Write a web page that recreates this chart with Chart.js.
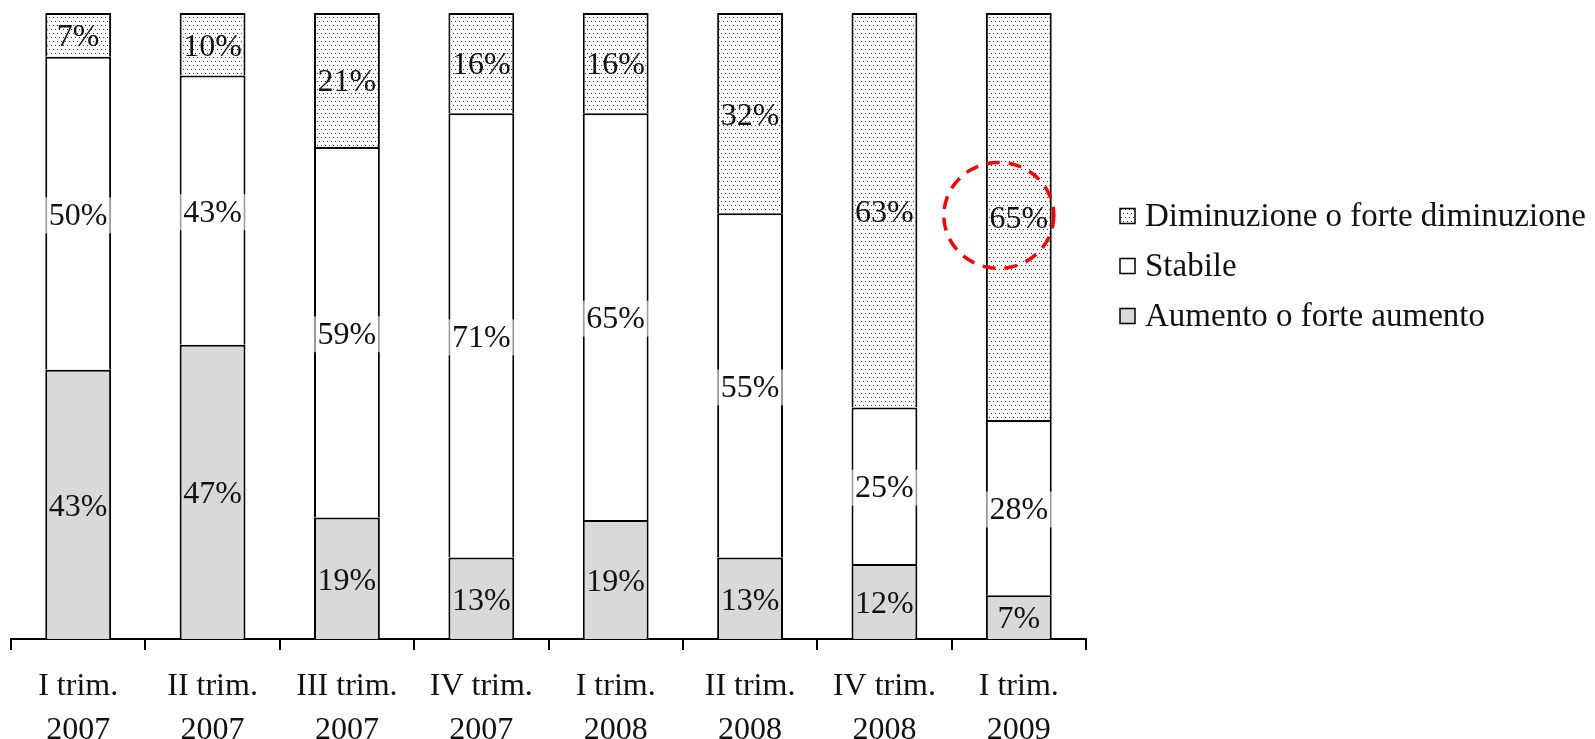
<!DOCTYPE html>
<html>
<head>
<meta charset="utf-8">
<script src="https://cdn.jsdelivr.net/npm/chart.js@4.4.0/dist/chart.umd.min.js"></script>
<style>
    html, body { margin: 0; padding: 0; background: #fff; }
    #wrap { width: 1595px; height: 739px; position: relative; }
</style>
</head>
<body>
<div id="wrap"><canvas id="chart"></canvas></div>
<script>
const categories = [
    ['I trim.', '2007'], ['II trim.', '2007'], ['III trim.', '2007'], ['IV trim.', '2007'],
    ['I trim.', '2008'], ['II trim.', '2008'], ['IV trim.', '2008'], ['I trim.', '2009']
];
const aumento = [43, 47, 19.4, 13, 19, 13, 12, 7];
const stabile = [50, 43, 59.2, 71, 65, 55, 25, 28];
const diminuzione = [7, 10, 21.4, 16, 16, 32, 63, 65];
const seriesNames = ['Aumento o forte aumento', 'Stabile', 'Diminuzione o forte diminuzione'];
const highlightIndex = 7;

const FONT = '"Liberation Serif", "Times New Roman", serif';

// dotted fill like the original
function dotPattern() {
    const c = document.createElement('canvas');
    c.width = 4;
    c.height = 8;
    const g = c.getContext('2d');
    g.fillStyle = '#fff';
    g.fillRect(0, 0, 4, 8);
    g.fillStyle = '#333';
    g.fillRect(1, 1, 1, 1);
    g.fillRect(3, 5, 1, 1);
    return g.createPattern(c, 'repeat');
}
const dots = dotPattern();

// percentages centred in each segment
const barLabels = {
    id: 'barLabels',
    afterDatasetsDraw(chart) {
        const ctx = chart.ctx;
        ctx.save();
        ctx.font = '32px ' + FONT;
        ctx.textAlign = 'center';
        ctx.textBaseline = 'middle';
        chart.data.datasets.forEach((ds, i) => {
            chart.getDatasetMeta(i).data.forEach((bar, j) => {
                const y = (bar.y + bar.base) / 2 + 2;
                if (ds.labelBox) {
                    ctx.fillStyle = 'rgba(255,255,255,0.6)';
                    ctx.fillRect(bar.x - bar.width / 2 - 1, y - 18, bar.width + 2, 36);
                }
                ctx.fillStyle = '#111';
                ctx.fillText(Math.round(ds.data[j]) + '%', bar.x, y + 1);
            });
        });
        ctx.restore();
    }
};

// red dashed circle on the last quarter (sits a bit left of the bar)
const highlight = {
    id: 'highlight',
    afterDraw(chart) {
        const bar = chart.getDatasetMeta(2).data[highlightIndex];
        if (!bar) return;
        const ctx = chart.ctx;
        ctx.save();
        ctx.strokeStyle = '#ff0000';
        ctx.lineWidth = 3.5;
        ctx.setLineDash([13, 9]);
        ctx.beginPath();
        ctx.ellipse(bar.x - 20, (bar.y + bar.base) / 2 - 1, 55, 53, 0, 0, Math.PI * 2);
        ctx.stroke();
        ctx.restore();
    }
};

// legend on the right, top entry = top of the stack
const sideLegend = {
    id: 'sideLegend',
    afterDraw(chart) {
        const ctx = chart.ctx;
        const x = chart.chartArea.right + 34;
        const rows = [216, 266, 316];
        ctx.save();
        ctx.font = '33px ' + FONT;
        ctx.textBaseline = 'middle';
        const order = [2, 1, 0];
        order.forEach((di, k) => {
            const ds = chart.data.datasets[di];
            const y = rows[k];
            ctx.fillStyle = ds.backgroundColor;
            ctx.fillRect(x, y - 7.5, 15, 15);
            ctx.strokeStyle = '#000';
            ctx.lineWidth = 1.5;
            ctx.strokeRect(x, y - 7.5, 15, 15);
            ctx.fillStyle = '#111';
            ctx.fillText(ds.label, x + 25, y + 1);
        });
        ctx.restore();
    }
};

new Chart(document.getElementById('chart'), {
    type: 'bar',
    data: {
        labels: categories,
        datasets: [
            { label: seriesNames[0], data: aumento, backgroundColor: '#d9d9d9' },
            { label: seriesNames[1], data: stabile, backgroundColor: '#ffffff', labelBox: true },
            { label: seriesNames[2], data: diminuzione, backgroundColor: dots }
        ]
    },
    options: {
        responsive: true,
        maintainAspectRatio: false,
        animation: false,
        layout: {
            padding: { left: 11, right: 509, top: 13, bottom: 0 }
        },
        datasets: {
            bar: {
                borderColor: '#000',
                borderWidth: 2,
                barPercentage: 0.49,
                categoryPercentage: 1
            }
        },
        plugins: {
            legend: { display: false },
            tooltip: { enabled: false }
        },
        scales: {
            x: {
                stacked: true,
                afterFit(scale) {
                    scale.height = 100;
                },
                grid: {
                    offset: true,
                    drawOnChartArea: false,
                    drawTicks: true,
                    tickLength: 11,
                    color: '#000',
                    lineWidth: 2
                },
                border: { color: '#000', width: 2 },
                ticks: {
                    color: '#111',
                    padding: 15,
                    maxRotation: 0,
                    font: { family: FONT, size: 32, lineHeight: 1.36 }
                }
            },
            y: {
                stacked: true,
                display: false,
                min: 0,
                max: 100
            }
        }
    },
    plugins: [barLabels, highlight, sideLegend]
});
</script>
</body>
</html>
